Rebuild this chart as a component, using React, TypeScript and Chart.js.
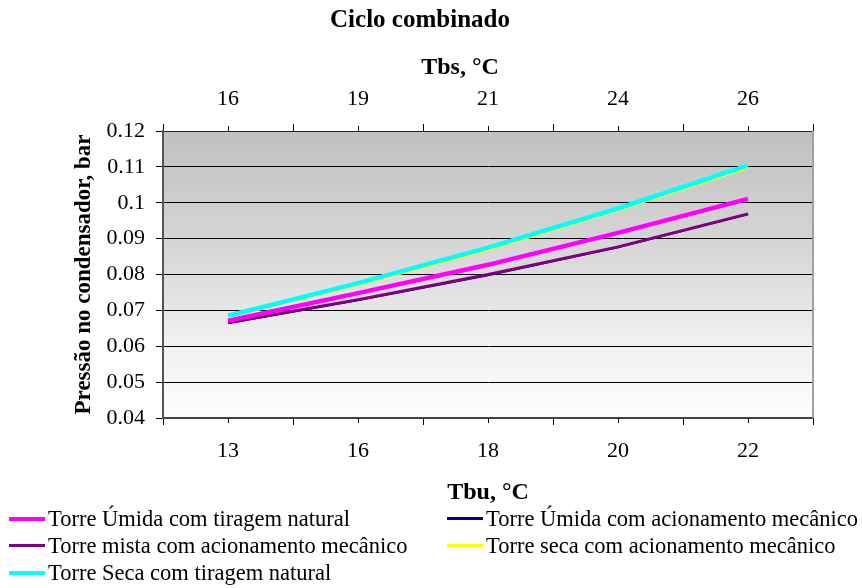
import React, { useEffect, useRef } from "react";
import { Chart, registerables } from "chart.js";

Chart.register(...registerables);

const tbuLabels = ["13", "16", "18", "20", "22"];
const tbsLabels = ["16", "19", "21", "24", "26"];

const umidaNatural = [0.0671, 0.0748, 0.0827, 0.0916, 0.1011];
const umidaMecanico = [0.0664, 0.0728, 0.0798, 0.0876, 0.0968];
const mistaMecanico = [0.0666, 0.073, 0.08, 0.0877, 0.0969];
const secaMecanico = [0.068, 0.077, 0.0868, 0.0978, 0.1097];
const secaNatural = [0.0685, 0.0776, 0.0875, 0.0984, 0.1104];

const seriesNames = [
  "Torre Úmida com tiragem natural",
  "Torre Úmida com acionamento mecânico",
  "Torre mista com acionamento mecânico",
  "Torre seca com acionamento mecânico",
  "Torre Seca com tiragem natural",
];
const seriesColors = ["#FF00FF", "#000080", "#800080", "#FFFF00", "#00FFFF"];
const seriesWidths = [4.5, 2, 3, 2, 4.5];
const seriesOrder = [2, 4, 3, 1, 0];

const FONT = "'Liberation Serif', 'Times New Roman', serif";

const decorPlugin = {
  id: "decor",
  beforeDraw(chart: any) {
    const { ctx, chartArea } = chart;
    const { left, right, top, bottom } = chartArea;
    const g = ctx.createLinearGradient(0, top, 0, bottom);
    g.addColorStop(0, "#c0c0c0");
    g.addColorStop(0.45, "#d9d9d9");
    g.addColorStop(0.72, "#efefef");
    g.addColorStop(1, "#fefefe");
    ctx.save();
    ctx.fillStyle = g;
    ctx.fillRect(left, top, right - left, bottom - top);
    ctx.restore();
  },
  afterDraw(chart: any) {
    const { ctx, chartArea } = chart;
    ctx.save();
    ctx.strokeStyle = "#a0a0a0";
    ctx.lineWidth = 2;
    ctx.beginPath();
    ctx.moveTo(chartArea.right, chartArea.top);
    ctx.lineTo(chartArea.right, chartArea.bottom);
    ctx.stroke();
    ctx.strokeStyle = "#000";
    ctx.lineWidth = 1;
    const xs = chart.scales.x;
    const xt = chart.scales.x2;
    for (let i = 0; i < tbuLabels.length; i++) {
      const px = Math.round(xs.getPixelForTick(i)) + 0.5;
      ctx.beginPath();
      ctx.moveTo(px, chartArea.bottom);
      ctx.lineTo(px, chartArea.bottom + 5);
      ctx.stroke();
    }
    for (let i = 0; i < tbsLabels.length; i++) {
      const px = Math.round(xt.getPixelForTick(i)) + 0.5;
      ctx.beginPath();
      ctx.moveTo(px, chartArea.top);
      ctx.lineTo(px, chartArea.top - 5);
      ctx.stroke();
    }
    ctx.fillStyle = "#000";
    ctx.textAlign = "center";
    ctx.textBaseline = "middle";
    ctx.font = `bold 25px ${FONT}`;
    ctx.fillText("Ciclo combinado", 420, 21);
    ctx.font = `bold 24px ${FONT}`;
    ctx.fillText("Tbs, °C", 460, 68);
    ctx.restore();
  },
};

export default function App() {
  const ref = useRef<HTMLCanvasElement | null>(null);

  useEffect(() => {
    document.body.style.margin = "0";
    const canvas = ref.current;
    if (!canvas) return;
    const datasets = [umidaNatural, umidaMecanico, mistaMecanico, secaMecanico, secaNatural].map(
      (data, i) => ({
        label: seriesNames[i],
        data,
        borderColor: seriesColors[i],
        backgroundColor: seriesColors[i],
        borderWidth: seriesWidths[i],
        pointRadius: 0,
        tension: 0,
        fill: false,
        order: seriesOrder[i],
        xAxisID: "x",
        yAxisID: "y",
        borderJoinStyle: "round" as const,
        borderCapStyle: "butt" as const,
      })
    );
    const chart = new Chart(canvas, {
      type: "line",
      data: { labels: tbuLabels, datasets },
      options: {
        responsive: false,
        animation: false,
        devicePixelRatio: 1,
        layout: { padding: { left: 0, right: 49, top: 0, bottom: 75 } },
        plugins: {
          legend: { display: false },
          title: { display: false },
          tooltip: { enabled: false },
        },
        scales: {
          x: {
            type: "category",
            position: "bottom",
            labels: tbuLabels,
            offset: true,
            grid: {
              offset: true,
              drawOnChartArea: false,
              drawTicks: true,
              tickLength: 7,
              color: "#000",
            },
            border: { display: true, color: "#444", width: 2 },
            ticks: { color: "#000", font: { family: FONT, size: 22 }, padding: 13, maxRotation: 0 },
            title: {
              display: true,
              text: "Tbu, °C",
              color: "#000",
              font: { family: FONT, size: 24, weight: "bold" },
              padding: { top: 0, bottom: 6 },
            },
            afterFit: (s: any) => {
              s.height = 95;
            },
          },
          x2: {
            type: "category",
            position: "top",
            labels: tbsLabels,
            offset: true,
            grid: {
              offset: true,
              drawOnChartArea: false,
              drawTicks: true,
              tickLength: 7,
              color: "#000",
            },
            border: { display: true, color: "#222", width: 1 },
            ticks: { color: "#000", font: { family: FONT, size: 22 }, padding: 12, maxRotation: 0 },
            afterFit: (s: any) => {
              s.height = 131;
            },
          },
          y: {
            type: "linear",
            position: "left",
            min: 0.04,
            max: 0.12,
            ticks: {
              stepSize: 0.01,
              color: "#000",
              font: { family: FONT, size: 22 },
              padding: 11,
              callback: (v: any) => String(Number(Number(v).toFixed(2))),
            },
            grid: { color: "#000", lineWidth: 1, tickLength: 7, drawTicks: true },
            border: { display: true, color: "#555", width: 2 },
            title: {
              display: true,
              text: "Pressão no condensador, bar",
              color: "#000",
              font: { family: FONT, size: 23, weight: "bold" },
              padding: { top: 70, bottom: 0 },
            },
            afterFit: (s: any) => {
              s.width = 163;
            },
          },
        },
      },
      plugins: [decorPlugin],
    });
    return () => chart.destroy();
  }, []);

  const legendItem = (i: number) => (
    <div key={i} style={{ display: "flex", alignItems: "center", height: 27, whiteSpace: "nowrap" }}>
      <span
        style={{
          display: "inline-block",
          width: 36,
          height: seriesWidths[i] >= 4 ? 4 : 3,
          background: seriesColors[i],
          marginRight: 3,
        }}
      />
      <span>{seriesNames[i]}</span>
    </div>
  );

  return (
    <div style={{ position: "relative", width: 862, height: 588, overflow: "hidden", background: "#fff" }}>
      <canvas ref={ref} width={862} height={588} style={{ position: "absolute", left: 0, top: 0 }} />
      <div
        style={{
          position: "absolute",
          left: 9,
          top: 505,
          display: "grid",
          gridTemplateColumns: "438px 420px",
          fontFamily: FONT,
          fontSize: 22.5,
          color: "#000",
          lineHeight: "27px",
        }}
      >
        {legendItem(0)}
        {legendItem(1)}
        {legendItem(2)}
        {legendItem(3)}
        {legendItem(4)}
      </div>
    </div>
  );
}
